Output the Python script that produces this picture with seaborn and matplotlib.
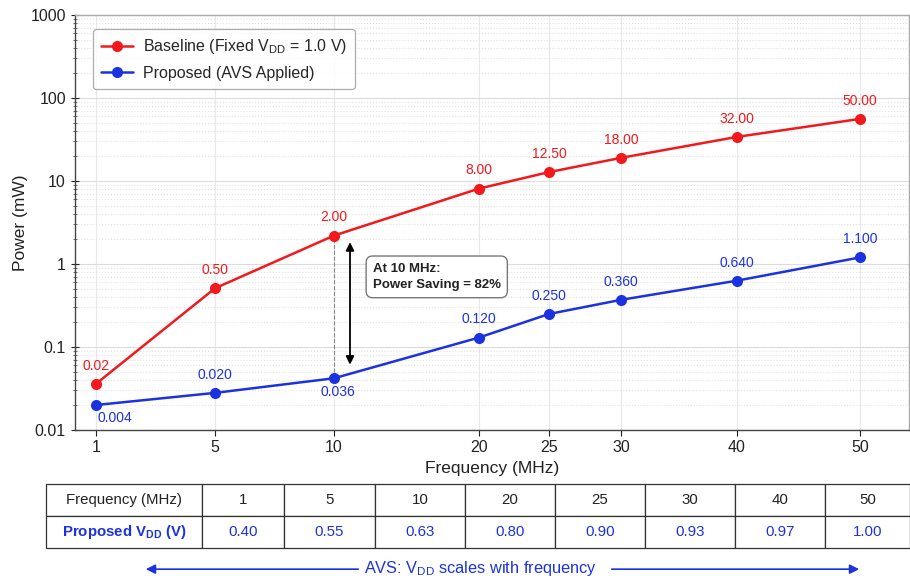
# AVS power vs frequency chart with VDD table underneath
import numpy as np
import pandas as pd
import matplotlib
matplotlib.use('Agg')
import matplotlib.pyplot as plt
import seaborn as sns
from matplotlib.ticker import FuncFormatter, LogLocator, NullFormatter, NullLocator

sns.set_theme(style='white')
plt.rcParams['font.family'] = ['Liberation Sans', 'DejaVu Sans']

# DATA
freq_mhz = [1, 5, 10, 20, 25, 30, 40, 50]
baseline_mw = [0.036, 0.51, 2.2, 8.1, 12.8, 19.0, 34.0, 56.0]
proposed_mw = [0.020, 0.028, 0.042, 0.13, 0.25, 0.37, 0.63, 1.2]
baseline_labels = ['0.02', '0.50', '2.00', '8.00', '12.50', '18.00', '32.00', '50.00']
proposed_labels = ['0.004', '0.020', '0.036', '0.120', '0.250', '0.360', '0.640', '1.100']
proposed_vdd = ['0.40', '0.55', '0.63', '0.80', '0.90', '0.93', '0.97', '1.00']
y_ticks = [0.01, 0.1, 1, 10, 100, 1000]

RED = '#f2191c'
BLUE = '#1c32e0'

# uneven x spacing of the original chart (frequency -> horizontal position)
spacing_f = [0, 1, 5, 10, 20, 25, 30, 40, 50, 55]
spacing_pos = [66, 96, 215, 334, 479, 549, 621, 737, 860, 921]

def fwd(f):
    return np.interp(f, spacing_f, spacing_pos)

def inv(p):
    return np.interp(p, spacing_pos, spacing_f)

df = pd.DataFrame({'freq': freq_mhz, 'baseline': baseline_mw, 'proposed': proposed_mw})

fig = plt.figure(figsize=(9.1, 5.83), dpi=100)
ax = fig.add_axes([75/910, 1-430/583, 834/910, 415/583])

sns.lineplot(data=df, x='freq', y='baseline', ax=ax, color=RED, marker='o', markersize=8,
             markeredgewidth=0, linewidth=1.8, label='Baseline (Fixed V$_{\\mathregular{DD}}$ = 1.0 V)')
sns.lineplot(data=df, x='freq', y='proposed', ax=ax, color=BLUE, marker='o', markersize=8,
             markeredgewidth=0, linewidth=1.8, label='Proposed (AVS Applied)')

ax.set_xscale('function', functions=(fwd, inv))
ax.set_xlim(inv(75), inv(909))
ax.set_xticks(freq_mhz)
ax.set_xticklabels([str(f) for f in freq_mhz])
ax.xaxis.set_minor_locator(NullLocator())

ax.set_yscale('log')
ax.set_ylim(0.01, 1000)
ax.set_yticks(y_ticks)
ax.yaxis.set_major_formatter(FuncFormatter(lambda v, pos: '%g' % v))
ax.yaxis.set_minor_locator(LogLocator(base=10, subs=np.arange(2, 10)))
ax.yaxis.set_minor_formatter(NullFormatter())

ax.tick_params(axis='both', which='major', labelsize=11.5, colors='#222222')
ax.tick_params(axis='y', which='major', direction='inout', length=6, width=0.8, left=True)
ax.tick_params(axis='y', which='minor', direction='inout', length=3, width=0.6, left=True, color='#555555')
ax.tick_params(axis='x', which='major', direction='out', length=4, width=0.8, bottom=True)

ax.grid(which='major', axis='y', color='#dcdcdc', linewidth=0.8)
ax.grid(which='minor', axis='y', color='#e2e2e2', linestyle=':', linewidth=0.8)
ax.grid(which='major', axis='x', color='#e8e8e8', linewidth=0.8)

for side in ['left', 'bottom']:
    ax.spines[side].set_color('#444444')
    ax.spines[side].set_linewidth(1.0)
for side in ['top', 'right']:
    ax.spines[side].set_color('#aaaaaa')
    ax.spines[side].set_linewidth(1.0)

ax.set_xlabel('Frequency (MHz)', fontsize=12.5, color='#222222', labelpad=4)
ax.set_ylabel('Power (mW)', fontsize=12.5, color='#222222', labelpad=2)

# value labels
for f, v, t in zip(freq_mhz, baseline_mw, baseline_labels):
    ax.annotate(t, xy=(f, v), xytext=(0, 8), textcoords='offset points',
                ha='center', va='bottom', color=RED, fontsize=10)
for i, (f, v, t) in enumerate(zip(freq_mhz, proposed_mw, proposed_labels)):
    if i == 0:
        ax.annotate(t, xy=(f, v), xytext=(1, -4), textcoords='offset points',
                    ha='left', va='top', color=BLUE, fontsize=10)
    elif i == 2:
        ax.annotate(t, xy=(f, v), xytext=(3, -5), textcoords='offset points',
                    ha='center', va='top', color=BLUE, fontsize=10)
    else:
        ax.annotate(t, xy=(f, v), xytext=(0, 8), textcoords='offset points',
                    ha='center', va='bottom', color=BLUE, fontsize=10)

# power saving callout at 10 MHz
i10 = freq_mhz.index(10)
ax.plot([10, 10], [proposed_mw[i10], baseline_mw[i10]], linestyle='--', color='#888888',
        linewidth=0.8, zorder=1)
x_arrow = inv(350)
ax.annotate('', xy=(x_arrow, baseline_mw[i10] * 0.9), xytext=(x_arrow, proposed_mw[i10] * 1.35),
            arrowprops=dict(arrowstyle='<|-|>', color='black', lw=1.3, mutation_scale=12))
ax.text(0.357, 0.369, 'At 10 MHz:\nPower Saving = 82%', transform=ax.transAxes,
        ha='left', va='center', fontsize=9.5, fontweight='bold', color='#222222', linespacing=1.5,
        bbox=dict(boxstyle='round,pad=0.5', fc='white', ec='#777777', lw=1.0))

leg = ax.legend(loc='upper left', bbox_to_anchor=(0.012, 0.985), fontsize=11.5, frameon=True,
                fancybox=True, edgecolor='#999999', handlelength=2.0, handletextpad=0.6,
                borderpad=0.5, labelspacing=0.6)
leg.get_frame().set_linewidth(0.9)

# VDD table
ax_t = fig.add_axes([46/910, 35/583, 864/910, 64/583])
ax_t.axis('off')
cells = [['Frequency (MHz)'] + [str(f) for f in freq_mhz],
         ['Proposed V$_{\\mathregular{DD}}$ (V)'] + proposed_vdd]
col_w = [156, 82, 91, 90, 90, 90, 90, 90, 85]
tbl = ax_t.table(cellText=cells, cellLoc='center', bbox=[0, 0, 1, 1],
                 colWidths=[w / sum(col_w) for w in col_w])
tbl.auto_set_font_size(False)
for (r, c), cell in tbl.get_celld().items():
    cell.set_edgecolor('#333333')
    cell.set_linewidth(0.9)
    cell.get_text().set_fontsize(10.8)
    if r == 1:
        cell.get_text().set_color(BLUE)
        if c == 0:
            cell.get_text().set_fontweight('bold')
    else:
        cell.get_text().set_color('#222222')

# AVS arrow note
y_note = 1 - 568/583
fig.text(0.528, y_note, 'AVS: V$_{\\mathregular{DD}}$ scales with frequency', color=BLUE,
         ha='center', va='center', fontsize=11.8)
fig.add_artist(matplotlib.patches.FancyArrowPatch((361/910, y_note - 0.002), (143/910, y_note - 0.002),
               transform=fig.transFigure, arrowstyle='-|>', mutation_scale=14, color=BLUE, lw=1.2))
fig.add_artist(matplotlib.patches.FancyArrowPatch((609/910, y_note - 0.002), (862/910, y_note - 0.002),
               transform=fig.transFigure, arrowstyle='-|>', mutation_scale=14, color=BLUE, lw=1.2))

fig.savefig('out.png', dpi=100)
